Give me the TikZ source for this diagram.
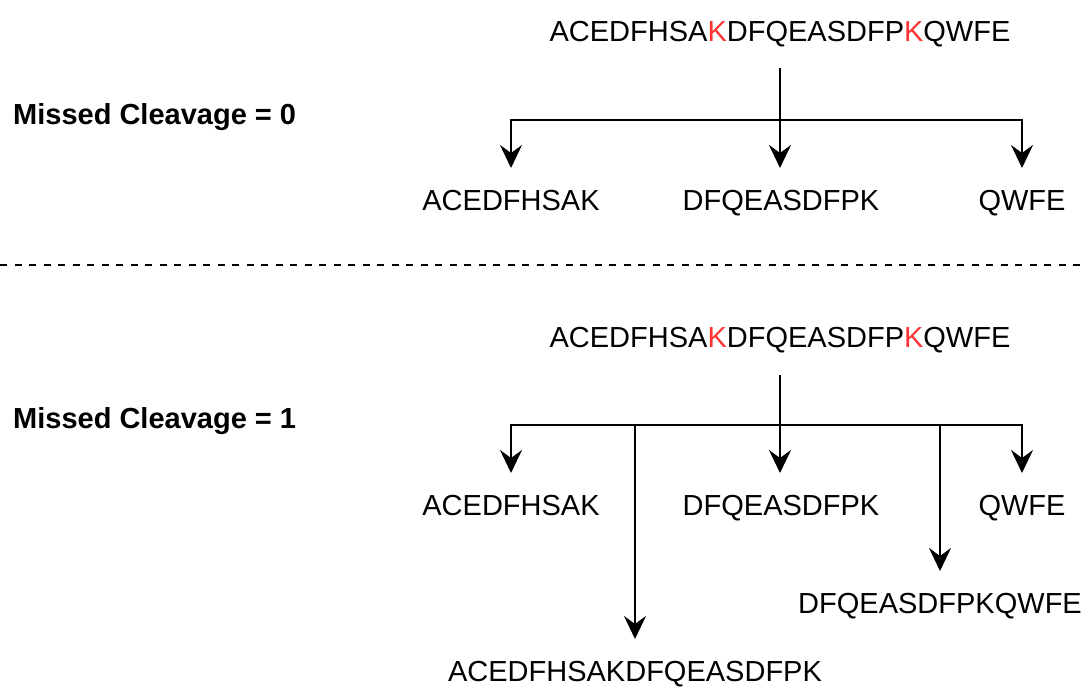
\documentclass[tikz,border=0pt]{standalone}
\usepackage{fontspec}
\setmainfont{Liberation Sans}
\usetikzlibrary{arrows.meta}
\definecolor{cut}{HTML}{FF3333}
\tikzset{
  seq/.style={font=\fontsize{29}{34}\selectfont, inner sep=0pt, text height=21pt, text depth=0pt},
  caption/.style={font=\fontsize{29}{34}\selectfont\bfseries, inner sep=0pt, anchor=west},
  line/.style={line width=2.2pt, line cap=rect},
  arr/.style={line width=2.2pt, -{Stealth[length=23pt, width=22pt, inset=8pt]}, shorten >=21pt},
  split/.style={line width=1.8pt, dash pattern=on 7pt off 7.5pt}
}
\newcommand{\K}{\textcolor{cut}{K}}
\begin{document}
\begin{tikzpicture}[x=1pt, y=-1pt]
\useasboundingbox (0,0) rectangle (1084,687);

% ---- missed cleavage = 0 ----
\node[caption] (lab0) at (13,117) {Missed Cleavage = 0};
\node[seq, anchor=north] (s0) at (780,20) {ACEDFHSA\K DFQEASDFP\K QWFE};
\node[seq, anchor=north] (a0) at (511,189) {ACEDFHSAK};
\node[seq, anchor=north] (m0) at (781,189) {DFQEASDFPK};
\node[seq, anchor=north] (q0) at (1022,189) {QWFE};
\coordinate (bar0) at (780,120);

\draw[arr, shorten <=27pt] (s0.south) -- (s0.south |- m0.north);
\draw[line] (a0.north |- bar0) -- (q0.north |- bar0);
\draw[arr] (a0.north |- bar0) -- (a0.north);
\draw[arr] (q0.north |- bar0) -- (q0.north);

% ---- separator ----
\coordinate (sepL) at (0,265);
\coordinate (sepR) at (1084,265);
\draw[split] (sepL) -- (sepR);

% ---- missed cleavage = 1 ----
\node[caption] (lab1) at (13,421) {Missed Cleavage = 1};
\node[seq, anchor=north] (s1) at (780,326) {ACEDFHSA\K DFQEASDFP\K QWFE};
\node[seq, anchor=north] (a1) at (511,494) {ACEDFHSAK};
\node[seq, anchor=north] (m1) at (781,494) {DFQEASDFPK};
\node[seq, anchor=north] (q1) at (1022,494) {QWFE};
\node[seq, anchor=north] (mq1) at (940,592) {DFQEASDFPKQWFE};
\node[seq, anchor=north] (am1) at (635,660) {ACEDFHSAKDFQEASDFPK};
\coordinate (bar1) at (780,425);

\draw[arr, shorten <=28pt] (s1.south) -- (s1.south |- m1.north);
\draw[line] (a1.north |- bar1) -- (q1.north |- bar1);
\draw[arr] (a1.north |- bar1) -- (a1.north);
\draw[arr] (q1.north |- bar1) -- (q1.north);
\draw[arr] (am1.north |- bar1) -- (am1.north);
\draw[arr] (mq1.north |- bar1) -- (mq1.north);
\end{tikzpicture}
\end{document}
